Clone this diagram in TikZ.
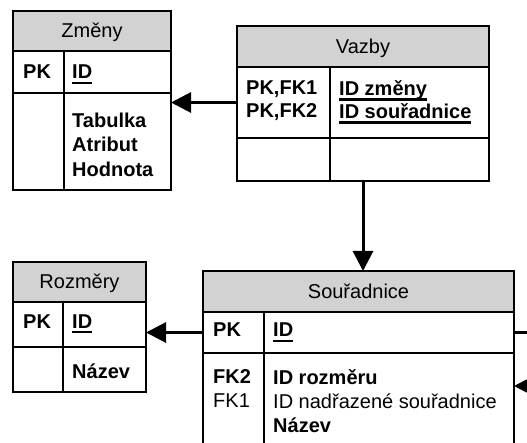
\documentclass[tikz,border=0pt]{standalone}
\usepackage{fontspec}
\setmainfont{Liberation Sans}
\usetikzlibrary{arrows.meta,positioning}
\newcommand\keyul[1]{\setbox0\hbox{#1}\rlap{\rule[-5pt]{\wd0}{2.2pt}}#1}

\begin{document}
\begin{tikzpicture}[x=1pt,y=-1pt,font=\fontsize{20}{24}\selectfont,>={Triangle[length=20pt,width=20pt]},
  hdr/.style={draw,line width=1.8pt,fill=gray!35,anchor=north west,inner sep=0pt,outer sep=0pt,text height=14pt,text depth=0pt},
  cell/.style={draw,line width=1.8pt,anchor=north west,inner sep=0pt,outer sep=0pt},
  txt/.style={anchor=base west,inner sep=0pt},
  lines/.style={anchor=north west,inner sep=0pt,align=left},
  rel/.style={->,line width=3pt}]
\useasboundingbox (0,0) rectangle (527,443);
\clip (0,0) rectangle (527,443);
% tables
\node[hdr,minimum width=158pt,minimum height=40pt] (zmeny) at (13,11) {Změny};
\node[cell,minimum width=158pt,minimum height=42pt] (zmeny-key) at (zmeny.south west) {};
\node[cell,minimum width=158pt,minimum height=97pt] (zmeny-body) at (zmeny-key.south west) {};
\node[hdr,minimum width=252pt,minimum height=41pt] (vazby) at (237,26) {Vazby};
\node[cell,minimum width=252pt,minimum height=71pt] (vazby-key) at (vazby.south west) {};
\node[cell,minimum width=252pt,minimum height=43pt] (vazby-body) at (vazby-key.south west) {};
\node[hdr,minimum width=133pt,minimum height=40pt] (rozmery) at (13,262) {Rozměry};
\node[cell,minimum width=133pt,minimum height=45pt] (rozmery-key) at (rozmery.south west) {};
\node[cell,minimum width=133pt,minimum height=45pt] (rozmery-body) at (rozmery-key.south west) {};
\node[hdr,minimum width=311pt,minimum height=41pt] (souradnice) at (203,271) {Souřadnice};
\node[cell,minimum width=311pt,minimum height=41pt] (souradnice-key) at (souradnice.south west) {};
\node[cell,minimum width=311pt,minimum height=110pt] (souradnice-body) at (souradnice-key.south west) {};
\foreach \t/\x in {zmeny/64,vazby/330,rozmery/63,souradnice/264}{\draw[line width=1.8pt] (\t-key.north -| \x,0) -- (\t-body.south -| \x,0);}
% columns
\node[txt] (zmeny-pk) at (23,79) {\bfseries PK};
\node[txt] (zmeny-id) at (72,79) {\bfseries\keyul{ID}};
\node[lines,font=\fontsize{20}{24.5}\selectfont\bfseries] (zmeny-attr) at (72,112.5) {Tabulka\\Atribut\\Hodnota};
\node[lines,font=\fontsize{20}{23}\selectfont\bfseries] (vazby-pk) at (246,80.5) {PK,FK1\\PK,FK2};
\node[lines,font=\fontsize{20}{23}\selectfont\bfseries] (vazby-id) at (339,80.5) {\keyul{ID změny}\\\keyul{ID souřadnice}};
\node[txt] (rozmery-pk) at (23,328) {\bfseries PK};
\node[txt] (rozmery-id) at (72,328) {\bfseries\keyul{ID}};
\node[txt] (rozmery-nazev) at (72,378) {\bfseries Název};
\node[txt] (souradnice-pk) at (213,337) {\bfseries PK};
\node[txt] (souradnice-id) at (273,337) {\bfseries\keyul{ID}};
\node[lines] (souradnice-fk) at (213,369.5) {\textbf{FK2}\\FK1};
\node[lines] (souradnice-attr) at (273,369.5) {\textbf{ID rozměru}\\ID nadřazené souřadnice\\\textbf{Název}};
% relations
\coordinate (fk1-in) at ([yshift=-33pt]souradnice-body.north east);
\draw[rel] (vazby-key.west) -- (vazby-key.west -| zmeny-body.east);
\draw[rel] (vazby-body.south) -- (vazby-body.south |- souradnice.north);
\draw[rel] (souradnice-key.west) -- (souradnice-key.west -| rozmery-key.east);
\draw[rel] (souradnice-key.east) -- ++(30,0) |- (fk1-in);
\end{tikzpicture}
\end{document}
